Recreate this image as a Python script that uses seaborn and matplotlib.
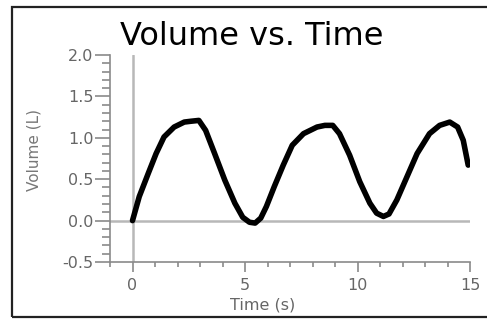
import numpy as np
import pandas as pd
import seaborn as sns
import matplotlib.pyplot as plt
from matplotlib.patches import Rectangle
from matplotlib.ticker import MultipleLocator

# Data
time_s = [0.0, 0.3, 0.7, 1.05, 1.4, 1.85, 2.3, 2.6, 2.95, 3.25, 3.65, 4.1, 4.55, 4.9,
          5.2, 5.45, 5.7, 5.95, 6.3, 6.7, 7.1, 7.6, 8.2, 8.55, 8.9, 9.2, 9.65, 10.1,
          10.55, 10.85, 11.15, 11.4, 11.75, 12.2, 12.65, 13.2, 13.65, 14.1, 14.45,
          14.7, 14.92]
volume_l = [0.0, 0.29, 0.57, 0.81, 1.01, 1.13, 1.19, 1.2, 1.21, 1.09, 0.81, 0.49, 0.21,
            0.04, -0.02, -0.03, 0.03, 0.17, 0.41, 0.67, 0.91, 1.05, 1.13, 1.15, 1.15,
            1.05, 0.79, 0.47, 0.21, 0.09, 0.05, 0.08, 0.25, 0.53, 0.81, 1.05, 1.15,
            1.19, 1.13, 0.97, 0.67]
x_ticks = [0, 5, 10, 15]
y_ticks = [-0.5, 0.0, 0.5, 1.0, 1.5, 2.0]

df = pd.DataFrame({'Time (s)': time_s, 'Volume (L)': volume_l})

sns.set_style('white')
plt.rcParams['font.family'] = ['DejaVu Sans']

fig = plt.figure(figsize=(4.87, 3.2), dpi=100)
ax = fig.add_axes([110/487, 1 - 262/320, 360/487, 207/320])

# zero reference lines
ax.axvline(0, color='#b8b8b8', lw=1.8, zorder=1)
ax.axhline(0, color='#b8b8b8', lw=1.8, zorder=1)

sns.lineplot(data=df, x='Time (s)', y='Volume (L)', ax=ax, color='black',
             lw=4.0, estimator=None, sort=False, zorder=3,
             solid_joinstyle='round', solid_capstyle='round')

ax.set_xlim(-1, 15)
ax.set_ylim(-0.5, 2.0)
ax.set_xticks(x_ticks)
ax.set_yticks(y_ticks)
ax.set_yticklabels([f'{v:.1f}' for v in y_ticks])
ax.xaxis.set_minor_locator(MultipleLocator(1))
ax.yaxis.set_minor_locator(MultipleLocator(0.1))

for s in ['top', 'right']:
    ax.spines[s].set_visible(False)
for s in ['left', 'bottom']:
    ax.spines[s].set_color('#8a8a8a')
    ax.spines[s].set_linewidth(1.2)

ax.tick_params(axis='x', which='major', length=7.5, width=1.2, color='#8a8a8a',
               labelsize=11.5, labelcolor='#666666', pad=4, direction='out', bottom=True)
ax.tick_params(axis='x', which='minor', length=3.8, width=1.2, color='#8a8a8a',
               direction='out', bottom=True)
ax.tick_params(axis='y', which='major', length=11, width=1.2, color='#8a8a8a',
               labelsize=11.5, labelcolor='#666666', pad=1, direction='out', left=True)
ax.tick_params(axis='y', which='minor', length=5.5, width=1.2, color='#8a8a8a',
               direction='out', left=True)

ax.set_xlabel('Time (s)', fontsize=11.5, color='#666666')
ax.set_ylabel('Volume (L)', fontsize=11, color='#777777')
ax.xaxis.set_label_coords((263 - 110) / 360, (262 - 298) / 207)
ax.yaxis.set_label_coords((34 - 110) / 360, (262 - 150) / 207)
ax.yaxis.label.set_va('center')

fig.text(252/487, 1 - 45/320, 'Volume vs. Time', fontsize=23, color='black',
         ha='center', va='baseline')

# outer frame (right edge runs off the image)
fig.patches.append(Rectangle((12/487, 3/320), 1.0, 310/320, transform=fig.transFigure,
                             fill=False, edgecolor='#222222', lw=1.6, clip_on=False))

fig.savefig('out.png', dpi=100)
